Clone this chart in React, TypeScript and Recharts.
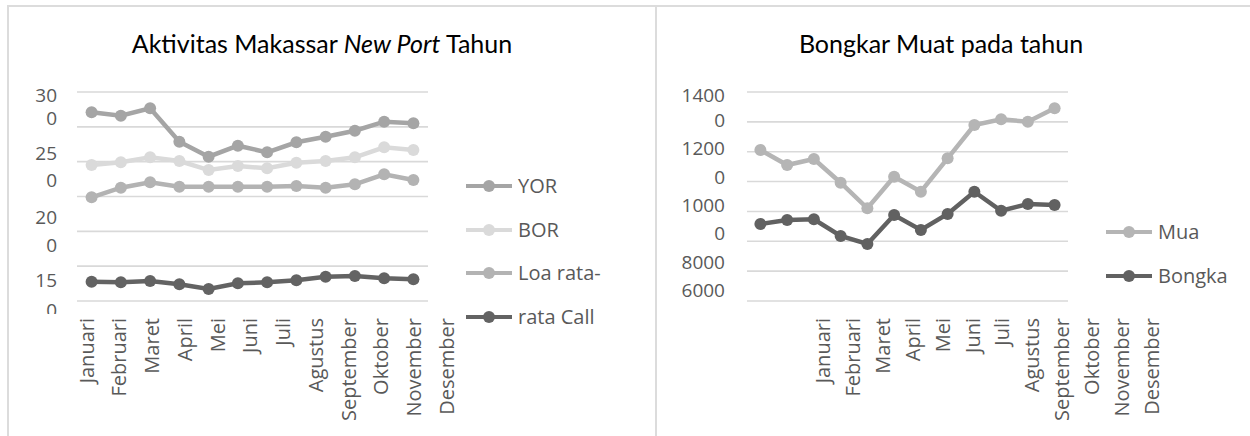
import React from 'react';
import { LineChart, Line, XAxis, YAxis, CartesianGrid, Legend } from 'recharts';

// ---------- shared categories ----------
const months = ['Januari', 'Februari', 'Maret', 'April', 'Mei', 'Juni', 'Juli', 'Agustus', 'September', 'Oktober', 'November', 'Desember'];

// ---------- left chart: Aktivitas Makassar New Port ----------
const leftTitle = 'Aktivitas Makassar';
const yorValues = [270.9, 266.0, 276.6, 228.6, 207.1, 222.9, 213.4, 227.8, 235.8, 244.4, 257.4, 255.1];
const borValues = [195.2, 199.1, 206.3, 200.9, 188.0, 193.8, 190.5, 198.5, 200.9, 206.3, 220.6, 216.7];
const loaValues = [148.8, 162.6, 170.4, 164.1, 164.1, 164.1, 164.1, 165.1, 162.6, 167.5, 181.9, 173.7];
const callValues = [27.7, 26.8, 28.7, 24.0, 17.2, 25.4, 26.8, 29.7, 34.9, 35.9, 32.6, 31.1];
const leftSeriesNames = ['YOR', 'BOR', 'Loa rata-', 'rata Call'];
const leftDomain = [0, 300];
const leftGridValues = [0, 50, 100, 150, 200, 250, 300];
const leftTickValues = [295.7, 262.7, 212.4, 173.6, 120.6, 80.4, 30.1, -12.9];
const leftTickLabels = ['30', '0', '25', '0', '20', '0', '15', '0'];

// ---------- right chart: Bongkar Muat ----------
const rightTitle = 'Bongkar Muat pada tahun';
const muaValues = [11057, 10555, 10756, 9962, 9105, 10163, 9660, 10779, 11894, 12085, 12005, 12454];
const bongkaValues = [8579, 8713, 8736, 8177, 7909, 8880, 8378, 8914, 9660, 9024, 9249, 9215];
const rightSeriesNames = ['Mua', 'Bongka'];
const rightDomain = [6000, 13000];
const rightGridValues = [6000, 7000, 8000, 9000, 10000, 11000, 12000, 13000];
const rightTickValues = [12900, 12062, 11124, 10153, 9215, 8278, 7306, 6368];
const rightTickLabels = ['1400', '0', '1200', '0', '1000', '0', '8000', '6000'];

const leftData = months.map((m, i) => ({
  month: m,
  yor: yorValues[i],
  bor: borValues[i],
  loa: loaValues[i],
  call: callValues[i],
}));
const rightData = months.map((m, i) => ({ month: m, mua: muaValues[i], bongka: bongkaValues[i] }));

const AXIS_FONT = "'Open Sans', sans-serif";
const TEXT_COLOR = '#595959';
const GRID_COLOR = '#d9d9d9';

const C_YOR = '#a5a5a5';
const C_BOR = '#dadada';
const C_LOA = '#b3b3b3';
const C_CALL = '#636363';
const C_MUA = '#b5b5b5';
const C_BONGKA = '#616161';

const makeYTick = (values: number[], labels: string[], clipId: string, clipBottom: number) => (props: any) => {
  const { x, y, payload, index } = props;
  let i = values.indexOf(payload?.value);
  if (i < 0) i = index;
  return (
    <g>
      <defs>
        <clipPath id={clipId}>
          <rect x={0} y={0} width={2000} height={clipBottom} />
        </clipPath>
      </defs>
      <text
        x={x}
        y={y}
        dy="0.35em"
        textAnchor="end"
        fill={TEXT_COLOR}
        fontSize={19}
        fontFamily={AXIS_FONT}
        clipPath={`url(#${clipId})`}
      >
        {labels[i]}
      </text>
    </g>
  );
};

const XLabelTick = (props: any) => {
  const { x, y, payload } = props;
  return (
    <text
      x={x}
      y={y}
      dy="0.35em"
      transform={`rotate(-90, ${x}, ${y})`}
      textAnchor="end"
      fill={TEXT_COLOR}
      fontSize={20}
      fontFamily={AXIS_FONT}
    >
      {payload.value}
    </text>
  );
};

const makeLegend = (rowHeight: number, order: string[]) => (props: any) => {
  const items = [...(props.payload || [])].sort(
    (a: any, b: any) => order.indexOf(a.value) - order.indexOf(b.value)
  );
  return (
    <div>
      {items.map((e: any) => (
        <div key={e.value} style={{ height: rowHeight, display: 'flex', alignItems: 'center', whiteSpace: 'nowrap' }}>
          <svg width={46} height={14} style={{ display: 'block' }}>
            <line x1={0} y1={7} x2={46} y2={7} stroke={e.color} strokeWidth={4} />
            <circle cx={23} cy={7} r={6} fill={e.color} />
          </svg>
          <span style={{ marginLeft: 6, fontFamily: AXIS_FONT, fontSize: 20, color: TEXT_COLOR, lineHeight: 1 }}>
            {e.value}
          </span>
        </div>
      ))}
    </div>
  );
};

const dotFor = (c: string) => ({ r: 6, fill: c, stroke: c, strokeWidth: 0 });

export default function App() {
  return (
    <div style={{ position: 'absolute', left: 0, top: 0, width: 1250, height: 436, background: '#fff', overflow: 'hidden' }}>
      {/* frame of the two document cells */}
      <div style={{ position: 'absolute', left: 7, top: 5, width: 1243, height: 2, background: '#dcdcdc' }} />
      <div style={{ position: 'absolute', left: 7, top: 5, width: 2, height: 431, background: '#dcdcdc' }} />
      <div style={{ position: 'absolute', left: 655, top: 5, width: 2, height: 431, background: '#dcdcdc' }} />

      {/* titles */}
      <svg width={1250} height={80} style={{ position: 'absolute', left: 0, top: 0 }}>
        <text x={322} y={53} textAnchor="middle" fontFamily="Lato, sans-serif" fontSize={25} fill="#000">
          {leftTitle} <tspan fontStyle="italic">New Port</tspan> Tahun
        </text>
        <text x={941} y={53} textAnchor="middle" fontFamily="Lato, sans-serif" fontSize={25} fill="#000">
          {rightTitle}
        </text>
      </svg>

      {/* left chart */}
      <div style={{ position: 'absolute', left: 0, top: 0 }}>
        <LineChart width={656} height={436} data={leftData} margin={{ top: 92, right: 228, bottom: 0, left: 17 }}>
          <CartesianGrid
            xAxisId="main"
            vertical={false}
            horizontalValues={leftGridValues}
            stroke={GRID_COLOR}
            strokeWidth={1.6}
          />
          <XAxis xAxisId="main" dataKey="month" hide padding={{ left: 14.6, right: 14.6 }} />
          <XAxis
            xAxisId="lbl"
            dataKey="month"
            height={135}
            padding={{ left: 9.7, right: -19 }}
            axisLine={false}
            tickLine={false}
            tickSize={0}
            tickMargin={17}
            interval={0}
            tick={<XLabelTick />}
          />
          <YAxis
            domain={leftDomain}
            ticks={leftTickValues}
            width={60}
            axisLine={false}
            tickLine={false}
            tickSize={0}
            tickMargin={20}
            interval={0}
            allowDataOverflow
            tick={makeYTick(leftTickValues, leftTickLabels, 'leftYClip', 314)}
          />
          <Line xAxisId="main" dataKey="yor" name={leftSeriesNames[0]} stroke={C_YOR} strokeWidth={4.5} dot={dotFor(C_YOR)} activeDot={false} isAnimationActive={false} />
          <Line xAxisId="main" dataKey="bor" name={leftSeriesNames[1]} stroke={C_BOR} strokeWidth={4.5} dot={dotFor(C_BOR)} activeDot={false} isAnimationActive={false} />
          <Line xAxisId="main" dataKey="loa" name={leftSeriesNames[2]} stroke={C_LOA} strokeWidth={4.5} dot={dotFor(C_LOA)} activeDot={false} isAnimationActive={false} />
          <Line xAxisId="main" dataKey="call" name={leftSeriesNames[3]} stroke={C_CALL} strokeWidth={4.5} dot={dotFor(C_CALL)} activeDot={false} isAnimationActive={false} />
          <Legend
            layout="vertical"
            align="center"
            verticalAlign="middle"
            content={makeLegend(43.7, leftSeriesNames)}
            wrapperStyle={{ left: 466, top: 164, width: 'auto' }}
          />
        </LineChart>
      </div>

      {/* right chart */}
      <div style={{ position: 'absolute', left: 656, top: 0 }}>
        <LineChart width={594} height={436} data={rightData} margin={{ top: 92, right: 182, bottom: 0, left: 31 }}>
          <CartesianGrid
            xAxisId="main"
            vertical={false}
            horizontalValues={rightGridValues}
            stroke={GRID_COLOR}
            strokeWidth={1.6}
          />
          <XAxis xAxisId="main" dataKey="month" hide padding={{ left: 13.4, right: 13.4 }} />
          <XAxis
            xAxisId="lbl"
            dataKey="month"
            height={135}
            padding={{ left: 76, right: -84 }}
            axisLine={false}
            tickLine={false}
            tickSize={0}
            tickMargin={17}
            interval={0}
            tick={<XLabelTick />}
          />
          <YAxis
            domain={rightDomain}
            ticks={rightTickValues}
            width={60}
            axisLine={false}
            tickLine={false}
            tickSize={0}
            tickMargin={22}
            interval={0}
            allowDataOverflow
            tick={makeYTick(rightTickValues, rightTickLabels, 'rightYClip', 436)}
          />
          <Line xAxisId="main" dataKey="mua" name={rightSeriesNames[0]} stroke={C_MUA} strokeWidth={4.5} dot={dotFor(C_MUA)} activeDot={false} isAnimationActive={false} />
          <Line xAxisId="main" dataKey="bongka" name={rightSeriesNames[1]} stroke={C_BONGKA} strokeWidth={4.5} dot={dotFor(C_BONGKA)} activeDot={false} isAnimationActive={false} />
          <Legend
            layout="vertical"
            align="center"
            verticalAlign="middle"
            content={makeLegend(44.3, rightSeriesNames)}
            wrapperStyle={{ left: 450, top: 209.7, width: 'auto' }}
          />
        </LineChart>
      </div>
    </div>
  );
}
